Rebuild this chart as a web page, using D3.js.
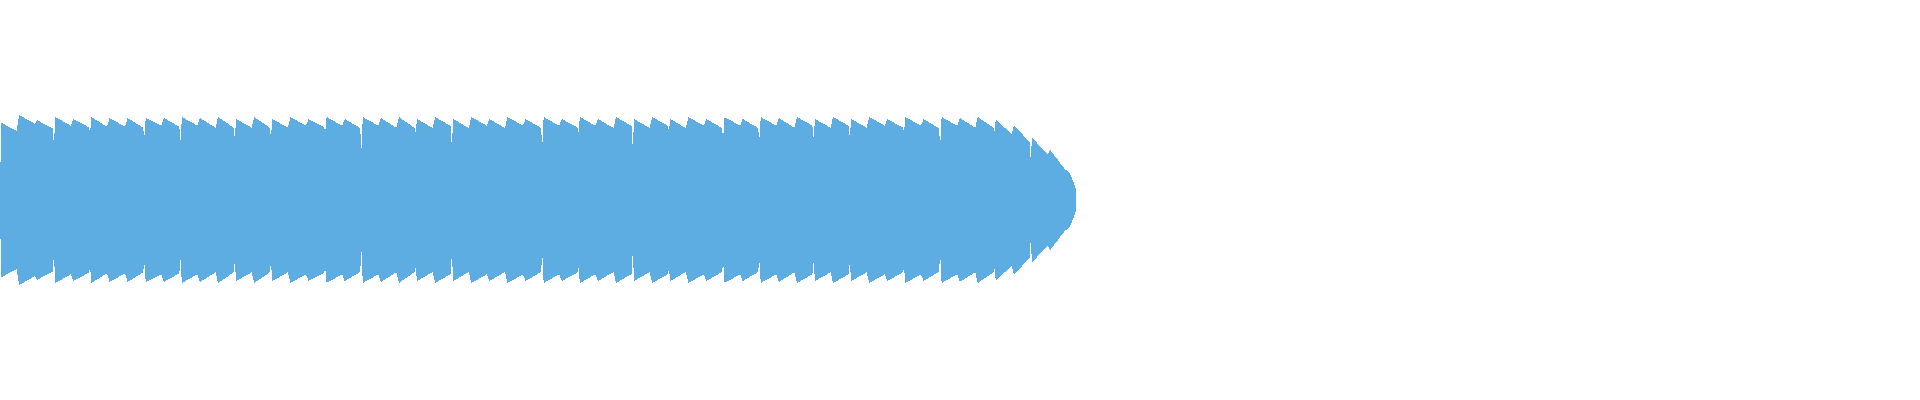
<!DOCTYPE html>
<html>
<head>
    <meta charset="utf-8">
    <style>
        body {
            margin: 0;
            background: #fff;
        }

        svg {
            display: block;
        }

        .band {
            fill: #5dade2;
            shape-rendering: crispEdges;
        }
    </style>
    <title>Mirrored band</title>
</head>

<body>
    <svg width="1920" height="400"></svg>
</body>

<script src="https://d3js.org/d3.v7.min.js"></script>
<script>
    // one value per week: the level right after the weekly jump
    let weekPeaks = [77.3, 85, 79.7, 83, 81, 83, 82, 82, 82, 82,
        83, 82, 83, 81, 83, 81, 83, 81, 83, 81,
        83, 82, 83, 81, 83, 81, 83, 81, 83, 81,
        83, 81, 83, 81, 83, 81, 83, 81, 83, 81,
        83, 81, 83, 82, 83, 81, 83, 81, 83, 81,
        83, 81, 83, 82, 83, 81, 74.3, 62.3, 50]

    // level at the last day of each week
    let weekEnds = [69.3, 76.3, 71.7, 74.3, 72.7, 73.3, 73.3, 72.3, 74.3, 73.3,
        74.3, 72.3, 72.3, 72.3, 72.3, 72.3, 74.3, 72.7, 74.3, 72,
        74.3, 72.3, 72, 72, 74, 72, 74.3, 72, 74.3, 72,
        74.3, 72.7, 74.3, 72, 74, 72, 74.3, 72, 74.3, 72,
        74.3, 72, 74.3, 72.3, 74.3, 72.3, 74.3, 72.3, 74.3, 72.3,
        74.3, 71.7, 74.3, 72.3, 72.3, 65.7, 58.3, 45.7]

    // short drop between two weeks (null = none)
    let weekDips = [null, null, 54.3, null, 67.3, null, null, 62.3, null, 60,
        null, null, 62.3, null, 62.3, null, null, 68, null, 49,
        null, null, 68, null, 53, null, null, null, null, 53,
        null, 67, null, null, 52, null, 69, null, null, 62,
        null, 60, null, null, 62, null, 62, null, null, 68,
        null, 54, null, null, 69, null, 41, null]

    // daily values of the final, unfinished week
    let tailValues = [46.5, 43.5, 40, 36.5, 33, 30, 29, 24, 18.3, 10]

    let width = 1920
    let height = 400
    let svg = d3.select('svg')

    let points = [{ day: -0.4, v: 0 }]
    weekPeaks.forEach(function (p, k) {
        points.push({ day: k * 7, v: p })
        if (k < weekEnds.length) {
            points.push({ day: k * 7 + 6, v: weekEnds[k] })
            if (weekDips[k] != null) points.push({ day: k * 7 + 6.45, v: weekDips[k] })
        }
    })
    tailValues.forEach(function (v, i) {
        points.push({ day: (weekPeaks.length - 1) * 7 + i + 1, v: v })
    })

    let lastDay = d3.max(points, d => d.day)

    let x = d3.scaleLinear()
        .domain([-0.4, lastDay])
        .range([0, 1076])

    let y = d3.scaleLinear()
        .domain([-100, 100])
        .range([300, 100])

    let area = d3.area()
        .x(d => x(d.day))
        .y0(d => y(-d.v))
        .y1(d => y(d.v))
        .curve(d3.curveLinear)

    svg.append('path')
        .datum(points)
        .attr('class', 'band')
        .attr('d', area)
</script>
</html>
